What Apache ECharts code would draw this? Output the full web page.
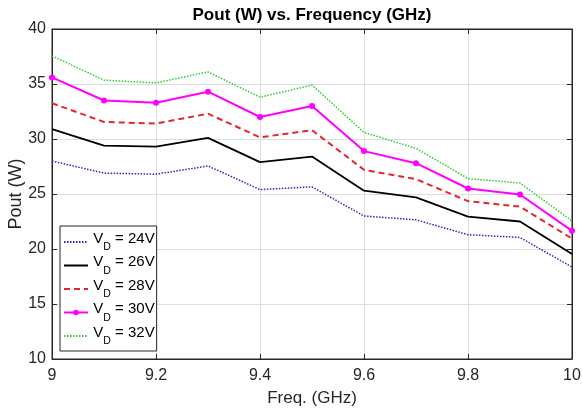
<!DOCTYPE html>
<html>
<head>
<meta charset="utf-8">
<script src="https://cdn.jsdelivr.net/npm/echarts@6/dist/echarts.min.js"></script>
<style>
html,body{margin:0;padding:0;background:#fff;}
#chart{width:582px;height:413px;}
</style>
</head>
<body>
<div id="chart"></div>
<script>
var freqs = [9.0, 9.1, 9.2, 9.3, 9.4, 9.5, 9.6, 9.7, 9.8, 9.9, 10.0];
var vd24 = [28.0, 26.9, 26.8, 27.55, 25.4, 25.65, 23.0, 22.65, 21.3, 21.05, 18.35];
var vd26 = [30.9, 29.4, 29.3, 30.1, 27.9, 28.4, 25.3, 24.7, 22.95, 22.5, 19.55];
var vd28 = [33.25, 31.55, 31.4, 32.3, 30.15, 30.8, 27.2, 26.35, 24.35, 23.85, 20.95];
var vd30 = [35.6, 33.5, 33.3, 34.3, 32.0, 33.0, 28.9, 27.8, 25.5, 24.95, 21.65];
var vd32 = [37.55, 35.35, 35.1, 36.1, 33.8, 34.9, 30.6, 29.15, 26.4, 26.0, 22.55];
var seriesNames = ['24V', '26V', '28V', '30V', '32V'];
var yTicks = [10, 15, 20, 25, 30, 35, 40];
var xTicks = [9, 9.2, 9.4, 9.6, 9.8, 10];

var FONT = '"Liberation Sans", Arial, Helvetica, sans-serif';
var AX = '#262626';

function pairs(vals) {
  return freqs.map(function (f, i) { return [f, vals[i]]; });
}

var chart = echarts.init(document.getElementById('chart'), null, {renderer: 'canvas'});

var styles = [
  {color: '#2a2ab8', type: [1.5, 1.5], width: 1.5, symbol: 'none'},
  {color: '#000000', type: 'solid', width: 1.8, symbol: 'none'},
  {color: '#e4262c', type: [6, 4], width: 2, symbol: 'none'},
  {color: '#ff00ff', type: 'solid', width: 2, symbol: 'circle'},
  {color: '#2ccc2c', type: [1.5, 1.5], width: 1.5, symbol: 'none'}
];
var datasets = [vd24, vd26, vd28, vd30, vd32];

var series = seriesNames.map(function (n, i) {
  var s = styles[i];
  return {
    name: n,
    type: 'line',
    data: pairs(datasets[i]),
    symbol: s.symbol,
    symbolSize: 6,
    showSymbol: s.symbol !== 'none',
    color: s.color,
    itemStyle: {color: s.color},
    lineStyle: {color: s.color, type: s.type, width: s.width},
    z: 2 + i
  };
});

var legendData = seriesNames.map(function (n, i) {
  if (styles[i].symbol === 'none') {
    return {name: n, itemStyle: {color: 'rgba(0,0,0,0)', borderColor: 'rgba(0,0,0,0)', borderWidth: 0, opacity: 0}};
  }
  return {name: n};
});

chart.setOption({
  animation: false,
  backgroundColor: '#ffffff',
  textStyle: {fontFamily: FONT},
  title: {
    text: 'Pout (W) vs. Frequency (GHz)',
    left: 312,
    textAlign: 'center',
    top: 7,
    padding: 0,
    textStyle: {fontFamily: FONT, fontSize: 17, fontWeight: 'bold', color: '#000'}
  },
  grid: {
    left: 52, right: 10, top: 29, bottom: 54,
    outerBoundsMode: 'none',
    containLabel: false,
    show: true, borderColor: AX, borderWidth: 1, backgroundColor: '#fff'
  },
  legend: {
    orient: 'vertical',
    left: 60,
    top: 226,
    padding: [5, 2, 4, 3],
    itemGap: 1.5,
    itemWidth: 24,
    itemHeight: 7,
    backgroundColor: '#ffffff',
    borderColor: AX,
    borderWidth: 1,
    borderRadius: 0,
    data: legendData,
    formatter: function (name) {
      return '{sp| }{a|V}{sub|D}{a| = ' + name + '}';
    },
    textStyle: {
      fontFamily: FONT,
      color: '#000',
      rich: {
        sp: {fontSize: 1, lineHeight: 22, verticalAlign: 'middle'},
        a: {fontSize: 15, lineHeight: 13, verticalAlign: 'top', fontFamily: FONT, color: '#000'},
        sub: {fontSize: 10.5, lineHeight: 14, verticalAlign: 'bottom', fontFamily: FONT, color: '#000'}
      }
    }
  },
  xAxis: [{
    type: 'value',
    min: 9, max: 10, interval: 0.2,
    name: 'Freq. (GHz)',
    nameLocation: 'middle',
    nameGap: 31,
    nameMoveOverlap: false,
    nameTextStyle: {fontFamily: FONT, fontSize: 17, color: AX},
    axisLine: {show: true, lineStyle: {color: AX, width: 1}},
    axisTick: {show: true, inside: true, length: 5, lineStyle: {color: AX}},
    axisLabel: {fontFamily: FONT, fontSize: 16, color: AX, margin: 9,
      formatter: function (v) { return String(Math.round(v * 10) / 10); }},
    splitLine: {show: true, lineStyle: {color: '#dedede', width: 1}}
  }, {
    type: 'value',
    position: 'top',
    min: 9, max: 10, interval: 0.2,
    axisLine: {show: true, lineStyle: {color: AX, width: 1}},
    axisTick: {show: true, inside: true, length: 5, lineStyle: {color: AX}},
    axisLabel: {show: false},
    splitLine: {show: false}
  }],
  yAxis: [{
    type: 'value',
    min: 10, max: 40, interval: 5,
    name: 'Pout (W)',
    nameLocation: 'middle',
    nameGap: 27,
    nameMoveOverlap: false,
    nameTextStyle: {fontFamily: FONT, fontSize: 18, color: AX},
    axisLine: {show: true, lineStyle: {color: AX, width: 1}},
    axisTick: {show: true, inside: true, length: 5, lineStyle: {color: AX}},
    axisLabel: {fontFamily: FONT, fontSize: 16, color: AX, margin: 6},
    splitLine: {show: true, lineStyle: {color: '#dedede', width: 1}}
  }, {
    type: 'value',
    position: 'right',
    min: 10, max: 40, interval: 5,
    axisLine: {show: true, lineStyle: {color: AX, width: 1}},
    axisTick: {show: true, inside: true, length: 5, lineStyle: {color: AX}},
    axisLabel: {show: false},
    splitLine: {show: false}
  }],
  series: series
});
</script>
</body>
</html>
